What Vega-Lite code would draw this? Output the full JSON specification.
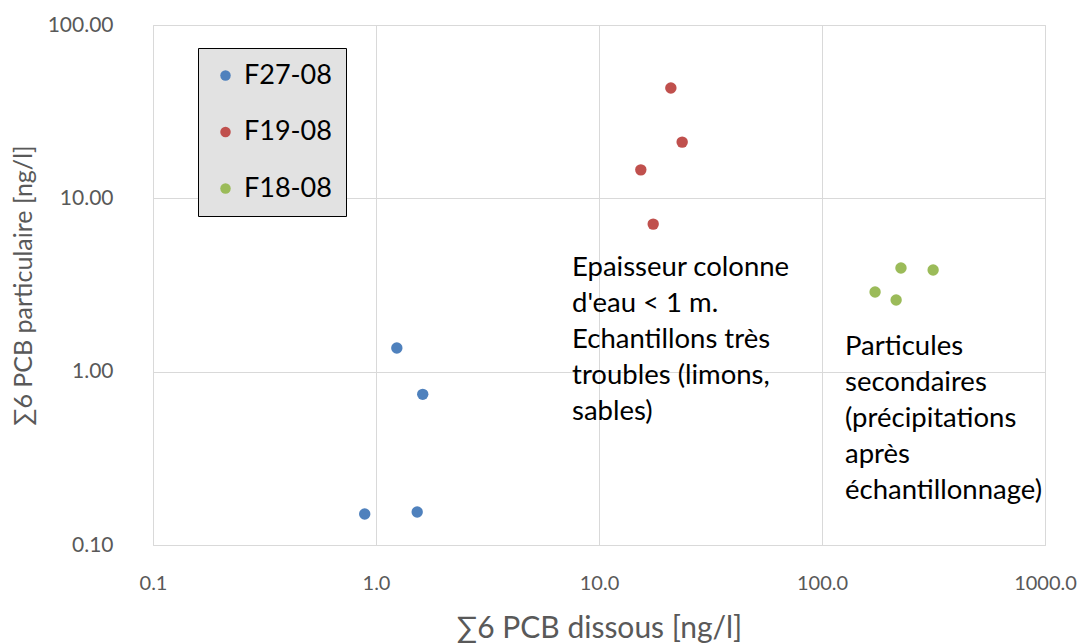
{
  "$schema": "https://vega.github.io/schema/vega-lite/v6.json",
  "width": 892,
  "height": 520,
  "autosize": {"type": "none"},
  "padding": {"left": 153, "top": 25, "right": 40, "bottom": 98},
  "background": "white",
  "config": {
    "font": "Lato",
    "view": {"stroke": "#d9d9d9", "strokeWidth": 1},
    "axis": {
      "gridColor": "#d9d9d9",
      "gridWidth": 1,
      "domain": false,
      "ticks": false,
      "labelColor": "#595959",
      "titleColor": "#595959",
      "labelFont": "Lato",
      "titleFont": "Lato",
      "titleFontWeight": "normal",
      "labelFlush": false,
      "labelFontSize": 20
    }
  },
  "datasets": {
    "points": [
      {"serie": "F27-08", "dissous": 0.89, "particulaire": 0.151},
      {"serie": "F27-08", "dissous": 1.24, "particulaire": 1.37},
      {"serie": "F27-08", "dissous": 1.62, "particulaire": 0.74},
      {"serie": "F27-08", "dissous": 1.53, "particulaire": 0.155},
      {"serie": "F19-08", "dissous": 21.0, "particulaire": 43.3},
      {"serie": "F19-08", "dissous": 23.6, "particulaire": 21.1},
      {"serie": "F19-08", "dissous": 15.4, "particulaire": 14.6},
      {"serie": "F19-08", "dissous": 17.5, "particulaire": 7.1},
      {"serie": "F18-08", "dissous": 173, "particulaire": 2.88},
      {"serie": "F18-08", "dissous": 226, "particulaire": 3.96},
      {"serie": "F18-08", "dissous": 315, "particulaire": 3.86},
      {"serie": "F18-08", "dissous": 215, "particulaire": 2.59}
    ],
    "notes": [
      {"dissous": 7.57, "particulaire": 3.96, "texte": "Epaisseur colonne\nd'eau < 1 m.\nEchantillons très\ntroubles (limons,\nsables)"},
      {"dissous": 126.8, "particulaire": 1.39, "texte": "Particules\nsecondaires\n(précipitations\naprès\néchantillonnage)"}
    ]
  },
  "layer": [
    {
      "data": {"name": "points"},
      "mark": {"type": "point", "filled": true, "opacity": 1, "size": 130},
      "encoding": {
        "x": {
          "field": "dissous", "type": "quantitative",
          "scale": {"type": "log", "domain": [0.1, 1000], "nice": false},
          "axis": {"values": [0.1, 1, 10, 100, 1000], "format": ".1f", "labelPadding": 28, "titlePadding": 20, "titleFontSize": 30, "title": "∑6 PCB dissous [ng/l]"}
        },
        "y": {
          "field": "particulaire", "type": "quantitative",
          "scale": {"type": "log", "domain": [0.1, 100], "nice": false},
          "axis": {"values": [0.1, 1, 10, 100], "format": ".2f", "labelPadding": 40, "labelFontSize": 21, "titlePadding": 11, "titleFontSize": 25, "title": "∑6 PCB particulaire [ng/l]"}
        },
        "color": {
          "field": "serie", "type": "nominal",
          "scale": {"domain": ["F27-08", "F19-08", "F18-08"], "range": ["#4F81BD", "#C0504D", "#9BBB59"]},
          "legend": {
            "title": null,
            "orient": "none",
            "legendX": 45,
            "legendY": 23,
            "symbolType": "circle",
            "symbolSize": 110,
            "labelFontSize": 27,
            "labelColor": "#000000",
            "labelFont": "Lato",
            "rowPadding": 28.5,
            "padding": 14,
            "labelOffset": 5,
            "strokeColor": "#000000",
            "fillColor": "#e2e2e2",
            "encode": {
              "legend": {
                "update": {
                  "strokeWidth": {"value": 1.5}
                }
              }
            }
          }
        }
      }
    },
    {
      "data": {"name": "notes"},
      "mark": {"type": "text", "align": "left", "baseline": "middle", "lineBreak": "\n", "lineHeight": 36, "fontSize": 27.5, "font": "Lato", "color": "#000000"},
      "encoding": {
        "x": {"field": "dissous", "type": "quantitative"},
        "y": {"field": "particulaire", "type": "quantitative"},
        "text": {"field": "texte", "type": "nominal"}
      }
    }
  ]
}
